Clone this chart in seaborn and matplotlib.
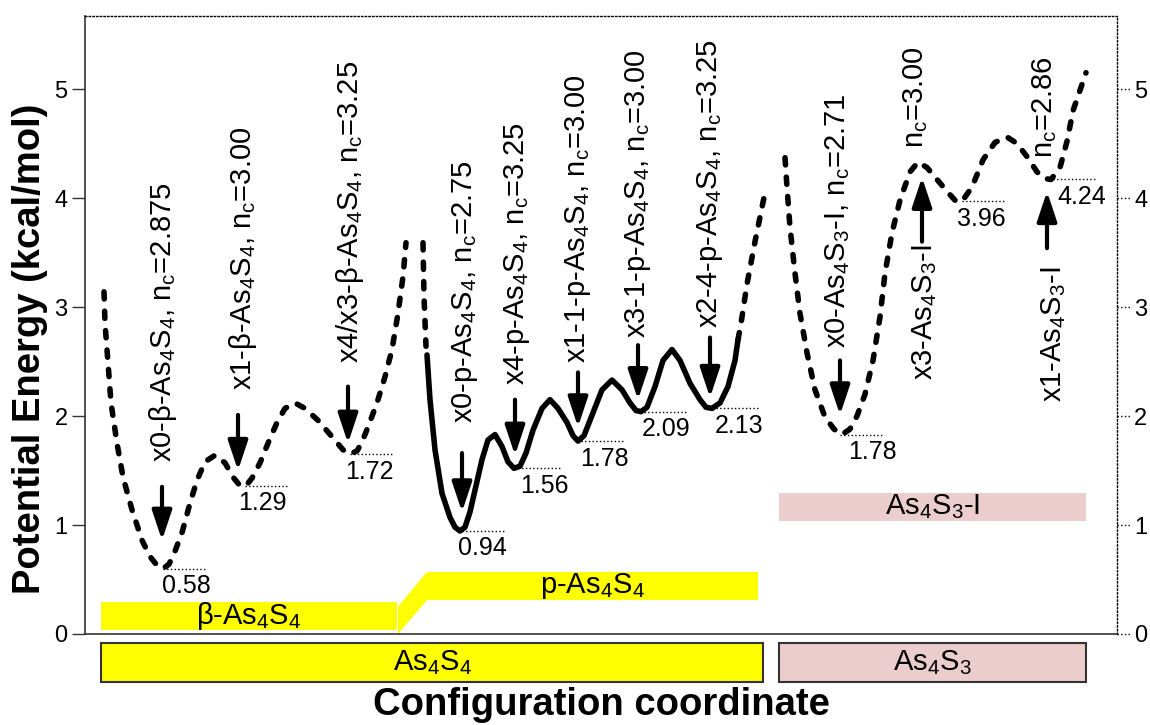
import matplotlib
matplotlib.use("Agg")
import matplotlib.pyplot as plt
from matplotlib.patches import Rectangle, Polygon
import seaborn as sns

# potential energy curves (configuration coordinate, kcal/mol)
beta_q = [104, 105, 108, 111, 117, 123, 132, 142, 150, 157, 163, 169, 175, 182, 190, 197, 205, 215,
          225, 233, 240, 246, 252, 260, 268, 277, 285, 295, 305, 318, 332, 343, 350, 357, 362, 368,
          377, 385, 392, 398, 403, 406]
beta_e = [3.14, 2.85, 2.49, 2.12, 1.75, 1.44, 1.14, 0.86, 0.71, 0.63, 0.60, 0.64, 0.76, 0.93, 1.20,
          1.41, 1.58, 1.64, 1.57, 1.44, 1.36, 1.36, 1.43, 1.57, 1.75, 1.94, 2.07, 2.12, 2.07, 1.96,
          1.81, 1.69, 1.65, 1.68, 1.76, 1.90, 2.12, 2.36, 2.61, 2.94, 3.28, 3.59]

p_left_q = [423, 424, 426]
p_left_e = [3.59, 3.10, 2.64]

p_q = [427, 430, 435, 442, 450, 455, 460, 465, 470, 475, 482, 488, 495, 502, 508, 514, 520, 526,
       533, 542, 550, 558, 567, 573, 578, 584, 593, 602, 612, 622, 630, 636, 641, 647, 655, 663,
       672, 680, 690, 700, 706, 712, 720, 728, 735, 738]
p_e = [2.56, 2.15, 1.69, 1.29, 1.07, 0.98, 0.945, 0.98, 1.12, 1.32, 1.60, 1.78, 1.83, 1.72, 1.58,
       1.52, 1.54, 1.66, 1.87, 2.07, 2.15, 2.07, 1.94, 1.82, 1.77, 1.82, 2.03, 2.24, 2.33, 2.24,
       2.12, 2.05, 2.04, 2.08, 2.27, 2.51, 2.61, 2.51, 2.30, 2.15, 2.08, 2.07, 2.12, 2.27, 2.51, 2.70]

p_right_q = [738, 741, 747, 755, 765]
p_right_e = [2.70, 2.85, 3.21, 3.60, 4.05]

i_q = [785, 787, 790, 795, 800, 807, 815, 825, 834, 842, 850, 857, 865, 873, 880, 885, 892, 900,
       910, 918, 927, 937, 950, 956, 962, 972, 983, 995, 1007, 1017, 1027, 1037, 1044, 1051, 1060,
       1067, 1073, 1086]
i_e = [4.37, 4.10, 3.73, 3.31, 2.94, 2.58, 2.24, 1.99, 1.88, 1.83, 1.88, 2.00, 2.20, 2.51, 2.91,
       3.31, 3.68, 3.98, 4.24, 4.33, 4.28, 4.17, 4.03, 3.97, 3.97, 4.10, 4.35, 4.51, 4.56, 4.50,
       4.38, 4.24, 4.18, 4.17, 4.28, 4.52, 4.80, 5.15]

# local minima: where the level mark starts, its energy, and the printed value
min_q = [163, 245, 350, 462, 518, 581, 644, 716, 840, 962, 1053]
min_e = [0.60, 1.36, 1.65, 0.945, 1.52, 1.77, 2.04, 2.07, 1.83, 3.97, 4.17]
min_txt = ["0.58", "1.29", "1.72", "0.94", "1.56", "1.78", "2.09", "2.13", "1.78", "3.96", "4.24"]

# structure names
state_txt = ["x0-β-As$_4$S$_4$, n$_c$=2.875", "x1-β-As$_4$S$_4$, n$_c$=3.00",
             "x4/x3-β-As$_4$S$_4$, n$_c$=3.25", "x0-p-As$_4$S$_4$, n$_c$=2.75",
             "x4-p-As$_4$S$_4$, n$_c$=3.25", "x1-1-p-As$_4$S$_4$, n$_c$=3.00",
             "x3-1-p-As$_4$S$_4$, n$_c$=3.00", "x2-4-p-As$_4$S$_4$, n$_c$=3.25",
             "x0-As$_4$S$_3$-I, n$_c$=2.71", "x3-As$_4$S$_3$-I", "n$_c$=3.00",
             "x1-As$_4$S$_3$-I", "n$_c$=2.86"]

# phase bands
band_txt = ["β-As$_4$S$_4$", "p-As$_4$S$_4$", "As$_4$S$_3$-I"]
band_q = [(101, 397), (427, 758), (779, 1086)]
band_e = [(0.04, 0.29), (0.31, 0.57), (1.04, 1.29)]
group_txt = ["As$_4$S$_4$", "As$_4$S$_3$"]
group_q = [(101, 763), (779, 1086)]

YELLOW = "#ffff00"
PINK = "#ebcdcd"

# layout (positions of annotations)
lab_q = [163, 243, 350, 465, 517, 578, 638, 710, 838, 925, 916, 1054, 1045]
lab_bottom = [1.58, 2.24, 2.49, 1.94, 2.28, 2.49, 2.72, 2.81, 2.62, 2.33, 4.46, 2.13, 4.37]
arr_q = [162, 238, 348, 462, 515, 578, 638, 710, 840, 922, 1047]
arr_from = [1.35, 2.01, 2.27, 1.66, 2.15, 2.40, 2.65, 2.72, 2.51, 3.60, 3.54]
arr_to = [0.86, 1.50, 1.75, 1.12, 1.64, 1.90, 2.15, 2.17, 2.01, 4.19, 4.06]
val_q = [162, 238, 345, 458, 520, 580, 642, 715, 848, 957, 1057]

sns.set_style("ticks")
plt.rcParams["font.family"] = ["Liberation Sans", "DejaVu Sans"]
plt.rcParams["text.color"] = "black"
plt.rcParams["ytick.labelcolor"] = "black"
plt.rcParams["mathtext.fontset"] = "custom"
plt.rcParams["mathtext.rm"] = "Liberation Sans"
plt.rcParams["mathtext.it"] = "Liberation Sans:italic"
plt.rcParams["mathtext.bf"] = "Liberation Sans:bold"
plt.rcParams["mathtext.default"] = "regular"

fig = plt.figure(figsize=(11.5, 7.25), dpi=100)
ax = fig.add_axes([85 / 1150, 1 - 634 / 725, 1032 / 1150, 618 / 725])


def curve(q, e, dashed):
    sns.lineplot(x=q, y=e, sort=False, estimator=None, color="black", lw=4.0, ax=ax)
    ln = ax.lines[-1]
    ln.set_solid_joinstyle("round")
    ln.set_solid_capstyle("round")
    if dashed:
        ln.set_dashes((1.3, 2.2))
        ln.set_dash_capstyle("round")
        ln.set_dash_joinstyle("round")


curve(beta_q, beta_e, True)
curve(p_left_q, p_left_e, True)
curve(p_q, p_e, False)
curve(p_right_q, p_right_e, True)
curve(i_q, i_e, True)

# level marks and values
for q, e, t, lq in zip(min_q, min_e, min_txt, val_q):
    ax.plot([q, q + 43], [e, e], ls=":", lw=1.0, color="black")
    ax.text(lq, e - 0.16, t, ha="left", va="center", fontsize=18)

# structure names and arrows
for q, b, t in zip(lab_q, lab_bottom, state_txt):
    ax.text(q, b, t, rotation=90, ha="center", va="bottom", fontsize=21)
for q, a, b in zip(arr_q, arr_from, arr_to):
    ax.annotate("", xy=(q, b), xytext=(q, a),
                arrowprops=dict(arrowstyle="-|>,head_length=0.9,head_width=0.3",
                                color="black", lw=3, shrinkA=0, shrinkB=0,
                                mutation_scale=20))

# phase bands inside the plot
for (q0, q1), (e0, e1), t, c in zip(band_q, band_e, band_txt, [YELLOW, YELLOW, PINK]):
    ax.add_patch(Rectangle((q0, e0), q1 - q0, e1 - e0, fc=c, lw=0, zorder=0.5))
    ax.text((q0 + q1) / 2, (e0 + e1) / 2, t, ha="center", va="center", fontsize=21)
ax.add_patch(Polygon([(band_q[0][1] + 1, 0.25), (band_q[1][0], band_e[1][1]),
                      (band_q[1][0], band_e[1][0]), (band_q[0][1] + 1, 0.0)],
                     closed=True, fc=YELLOW, lw=0, zorder=0.5))

# composition boxes below the axis
for (q0, q1), t, c in zip(group_q, group_txt, [YELLOW, PINK]):
    ax.add_patch(Rectangle((q0, -0.44), q1 - q0, 0.357, fc=c, ec="#333333", lw=1.5,
                           clip_on=False))
    ax.text((q0 + q1) / 2, -0.26, t, ha="center", va="center", fontsize=21)

ax.set_xlim(85, 1117)
ax.set_ylim(0, 5.67)
ax.set_xticks([])
ax.set_yticks([0, 1, 2, 3, 4, 5])
ax.tick_params(axis="y", which="major", length=9.5, width=1, pad=3, labelsize=17,
               color="#333333", labelcolor="black", right=True, labelright=True)
for t in ax.yaxis.get_major_ticks():
    t.tick2line.set_visible(False)
ax.hlines([0, 1, 2, 3, 4, 5], 1, 1 + 13 / 1032, transform=ax.get_yaxis_transform(),
          colors="black", linestyles=":", lw=1, clip_on=False)

for s in ["left", "bottom"]:
    ax.spines[s].set_color("#333333")
    ax.spines[s].set_linewidth(1.2)
for s in ["top", "right"]:
    ax.spines[s].set_linestyle(":")
    ax.spines[s].set_linewidth(1)
    ax.spines[s].set_color("black")

fig.text(601 / 1150, 2 / 725, "Configuration coordinate", ha="center", va="bottom",
         fontsize=27.5, fontweight="bold")
fig.text(30 / 1150, 1 - 349 / 725, "Potential Energy (kcal/mol)", rotation=90,
         ha="center", va="center", fontsize=27.5, fontweight="bold")

fig.savefig("out.png", dpi=100)
